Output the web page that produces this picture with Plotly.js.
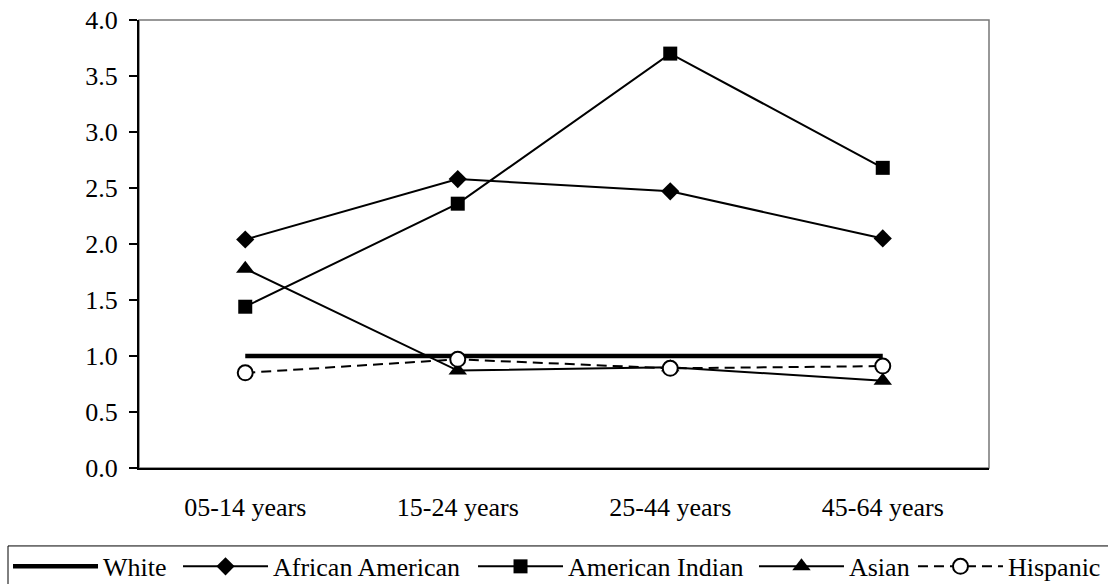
<!DOCTYPE html>
<html>
<head>
<meta charset="utf-8">
<script src="https://cdn.plot.ly/plotly-3.0.1.min.js"></script>
<style>html,body{margin:0;padding:0;background:#fff;}#chart{width:1108px;height:584px;}</style>
</head>
<body>
<div id="chart"></div>
<script>
const categories = ["05-14 years", "15-24 years", "25-44 years", "45-64 years"];
const white = [1.0, 1.0, 1.0, 1.0];
const africanAmerican = [2.04, 2.58, 2.47, 2.05];
const americanIndian = [1.44, 2.36, 3.70, 2.68];
const asian = [1.78, 0.87, 0.90, 0.78];
const hispanic = [0.85, 0.97, 0.89, 0.91];
const yTicks = [0, 0.5, 1, 1.5, 2, 2.5, 3, 3.5, 4];

const FONT = "'Liberation Serif', 'DejaVu Serif', serif";

const traces = [
  {name: "White", x: categories, y: white, mode: "lines", legend: "legend", legendwidth: 70,
   line: {color: "#000", width: 4.5}},
  {name: "African American", x: categories, y: africanAmerican, mode: "lines+markers",
   legend: "legend", legendwidth: 195,
   line: {color: "#000", width: 2},
   marker: {symbol: "diamond", size: 14, color: "#000"}},
  {name: "American Indian", x: categories, y: americanIndian, mode: "lines+markers",
   legend: "legend", legendwidth: 180,
   line: {color: "#000", width: 2},
   marker: {symbol: "square", size: 14, color: "#000"}},
  {name: "Asian", x: categories, y: asian, mode: "lines+markers",
   legend: "legend2", legendwidth: 59,
   line: {color: "#000", width: 2},
   marker: {symbol: "triangle-up", size: 16, color: "#000"}},
  {name: "Hispanic", x: categories, y: hispanic, mode: "lines+markers",
   legend: "legend2", legendwidth: 95,
   line: {color: "#000", width: 2, dash: "10px,6px"},
   marker: {symbol: "circle", size: 15, color: "#fff", line: {color: "#000", width: 2}}}
];

const legendCommon = {
  orientation: "h", xanchor: "left", yanchor: "top",
  bgcolor: "rgba(0,0,0,0)", borderwidth: 0, itemwidth: 85,
  font: {family: FONT, size: 26, color: "#000"}, traceorder: "normal"
};

const layout = {
  width: 1108, height: 584,
  margin: {l: 139, r: 119, t: 20, b: 116, autoexpand: false},
  paper_bgcolor: "#fff", plot_bgcolor: "#fff",
  font: {family: FONT, size: 26, color: "#000"},
  showlegend: true,
  legend: Object.assign({}, legendCommon, {x: -0.1541, y: -0.1673}),
  legend2: Object.assign({}, legendCommon, {x: 0.7235, y: -0.1673}),
  xaxis: {
    type: "category", range: [-0.5, 3.5], showgrid: false, zeroline: false,
    showline: true, linecolor: "#000", linewidth: 2,
    ticks: "", ticklabelstandoff: 15, automargin: false,
    tickfont: {family: FONT, size: 26, color: "#000"}
  },
  yaxis: {
    range: [0, 4], tickvals: yTicks, tickformat: ".1f",
    showgrid: false, zeroline: false, automargin: false,
    showline: true, linecolor: "#000", linewidth: 2,
    ticks: "outside", ticklen: 8, tickwidth: 1.5, tickcolor: "#000",
    ticklabelstandoff: 6,
    tickfont: {family: FONT, size: 26, color: "#000"}
  },
  shapes: [
    {type: "rect", xref: "paper", yref: "paper", x0: 0, x1: 1, y0: 0, y1: 1,
     line: {color: "#777", width: 1.5}, layer: "below"},
    {type: "rect", xref: "paper", yref: "paper", x0: -0.1541, x1: 1.2, y0: -0.174, y1: -0.35,
     line: {color: "#000", width: 1}, layer: "above"}
  ]
};

Plotly.newPlot("chart", traces, layout, {displayModeBar: false, staticPlot: true});
</script>
</body>
</html>
